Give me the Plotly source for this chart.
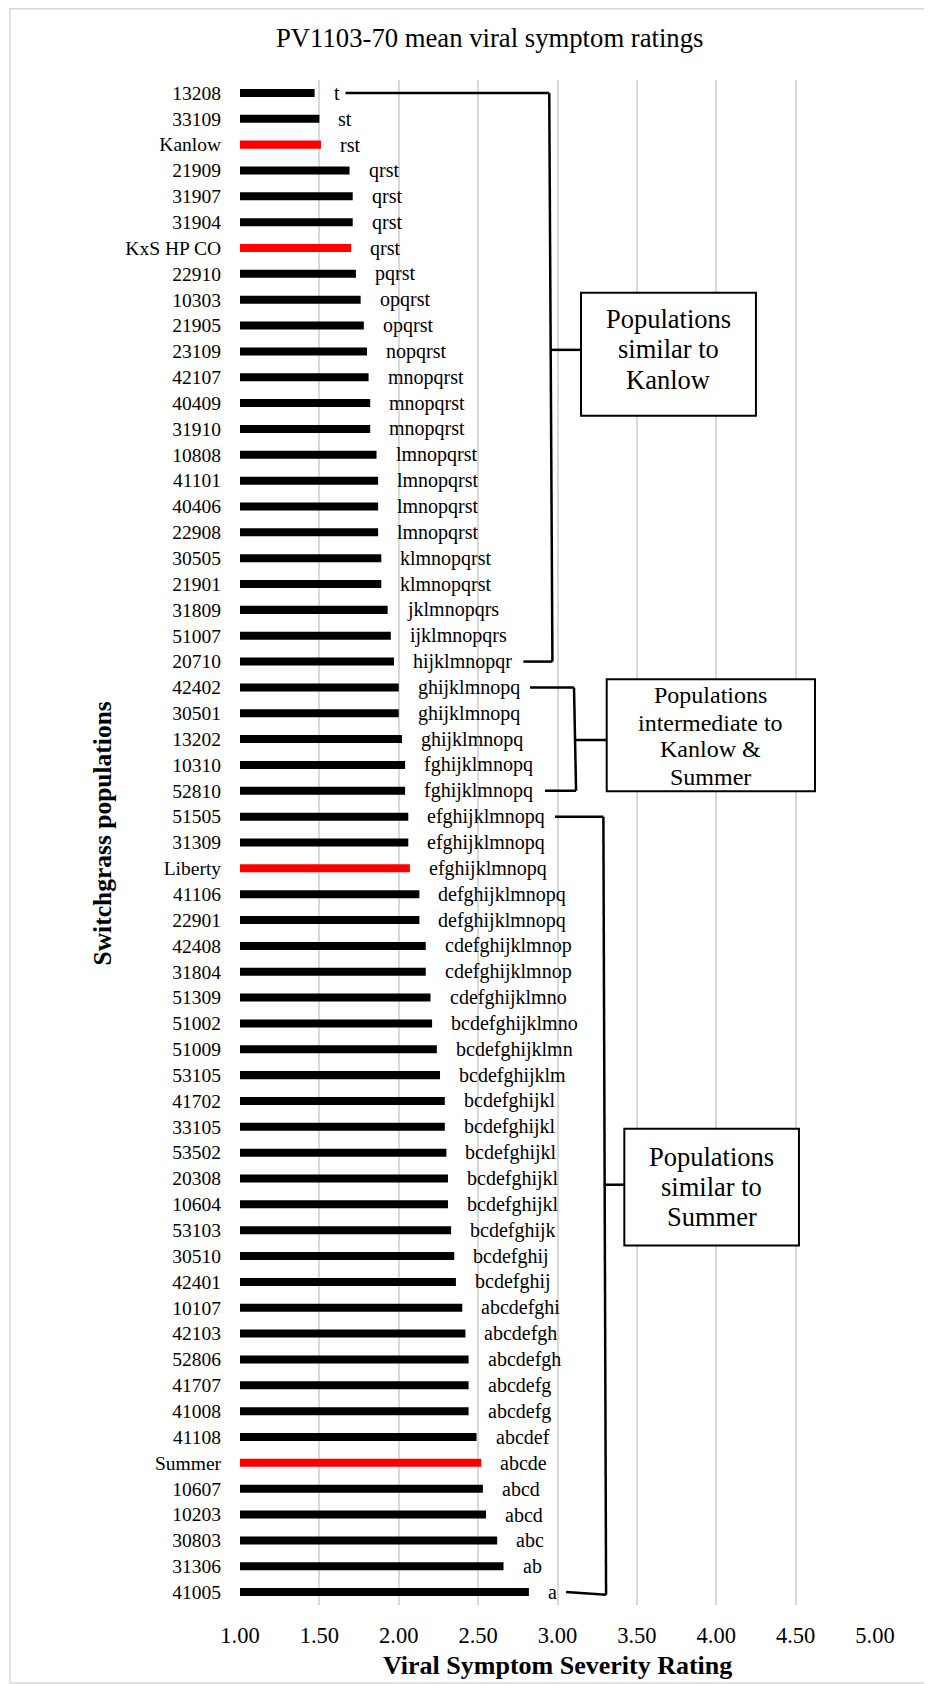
import plotly.graph_objects as go

# ---------------- data ----------------
populations = ["13208", "33109", "Kanlow", "21909", "31907", "31904", "KxS HP CO", "22910",
               "10303", "21905", "23109", "42107", "40409", "31910", "10808", "41101",
               "40406", "22908", "30505", "21901", "31809", "51007", "20710", "42402",
               "30501", "13202", "10310", "52810", "51505", "31309", "Liberty", "41106",
               "22901", "42408", "31804", "51309", "51002", "51009", "53105", "41702",
               "33105", "53502", "20308", "10604", "53103", "30510", "42401", "10107",
               "42103", "52806", "41707", "41008", "41108", "Summer", "10607", "10203",
               "30803", "31306", "41005"]

ratings = [1.47, 1.50, 1.51, 1.69, 1.71, 1.71, 1.70, 1.73,
           1.76, 1.78, 1.80, 1.81, 1.82, 1.82, 1.86, 1.87,
           1.87, 1.87, 1.89, 1.89, 1.93, 1.95, 1.97, 2.00,
           2.00, 2.02, 2.04, 2.04, 2.06, 2.06, 2.07, 2.13,
           2.13, 2.17, 2.17, 2.20, 2.21, 2.24, 2.26, 2.29,
           2.29, 2.30, 2.31, 2.31, 2.33, 2.35, 2.36, 2.40,
           2.42, 2.44, 2.44, 2.44, 2.49, 2.52, 2.53, 2.55,
           2.62, 2.66, 2.82]

letters = ["t", "st", "rst", "qrst", "qrst", "qrst", "qrst", "pqrst",
           "opqrst", "opqrst", "nopqrst", "mnopqrst", "mnopqrst", "mnopqrst", "lmnopqrst", "lmnopqrst",
           "lmnopqrst", "lmnopqrst", "klmnopqrst", "klmnopqrst", "jklmnopqrs", "ijklmnopqrs", "hijklmnopqr", "ghijklmnopq",
           "ghijklmnopq", "ghijklmnopq", "fghijklmnopq", "fghijklmnopq", "efghijklmnopq", "efghijklmnopq", "efghijklmnopq", "defghijklmnopq",
           "defghijklmnopq", "cdefghijklmnop", "cdefghijklmnop", "cdefghijklmno", "bcdefghijklmno", "bcdefghijklmn", "bcdefghijklm", "bcdefghijkl",
           "bcdefghijkl", "bcdefghijkl", "bcdefghijkl", "bcdefghijkl", "bcdefghijk", "bcdefghij", "bcdefghij", "abcdefghi",
           "abcdefgh", "abcdefgh", "abcdefg", "abcdefg", "abcdef", "abcde", "abcd", "abcd",
           "abc", "ab", "a"]

check_populations = ["Kanlow", "KxS HP CO", "Liberty", "Summer"]

x_ticks = [1.0, 1.5, 2.0, 2.5, 3.0, 3.5, 4.0, 4.5, 5.0]

group_labels = [["Populations", "similar to", "Kanlow"],
                ["Populations", "intermediate to", "Kanlow &", "Summer"],
                ["Populations", "similar to", "Summer"]]

# ---------------- figure ----------------
# the page body has an 8px margin, so the figure is drawn 8px smaller
OFF = 8
W, H = 932 - OFF, 1684 - OFF
ML, MR, MT, MB = 232, 57, 72, 79
PW, PH = W - ML - MR, H - MT - MB
FONT = "Liberation Serif, Times New Roman, serif"


def px_x(px):  # screen px -> paper x
    return (px - OFF - ML) / PW


def px_y(py):  # screen py -> paper y
    return (H - MB - (py - OFF)) / PH


rows = list(range(len(populations)))
colors = ["#ff0000" if p in check_populations else "#000000" for p in populations]

fig = go.Figure()
fig.add_trace(go.Bar(
    y=rows, x=ratings, orientation="h",
    marker=dict(color=colors, line=dict(width=0)),
    width=0.31, showlegend=False,
    customdata=populations,
    hovertemplate="%{customdata}: %{x:.2f}<extra></extra>",
))

annotations = []
for i, (r, l) in enumerate(zip(ratings, letters)):
    annotations.append(dict(x=r, y=i, xref="x", yref="y", text=l, showarrow=False,
                            xanchor="left", yanchor="middle", xshift=17,
                            font=dict(family=FONT, size=20, color="black")))

# group text boxes: (x0, x1, y0, y1, font size, line y positions)
boxes = [
    (3.148, 4.250, 7.73, 12.49, 26.5, [8.74, 9.92, 11.10]),
    (3.310, 4.622, 22.68, 27.02, 24, [23.30, 24.36, 25.39, 26.46]),
    (3.421, 4.521, 40.07, 44.59, 26.5, [41.18, 42.34, 43.50]),
]

shapes = []
# outer chart border
shapes.append(dict(type="rect", xref="paper", yref="paper",
                   x0=px_x(10), x1=px_x(926), y0=px_y(1683), y1=px_y(8.8),
                   line=dict(color="#d9d9d9", width=1.5), layer="below"))

BL = dict(color="black", width=2.5)
brackets = [
    [(1.665, 0, 2.948, 0), (2.948, 0, 2.968, 22), (2.785, 22, 2.968, 22), (2.957, 9.94, 3.148, 9.94)],
    [(2.827, 23, 3.104, 23), (3.104, 23, 3.117, 27), (2.921, 27, 3.117, 27), (3.110, 25.03, 3.310, 25.03)],
    [(2.984, 28, 3.289, 28), (3.289, 28, 3.306, 58.1), (3.054, 58, 3.306, 58.1), (3.298, 42.24, 3.421, 42.24)],
]
for br in brackets:
    for (xa, ya, xb, yb) in br:
        shapes.append(dict(type="line", xref="x", yref="y", x0=xa, y0=ya, x1=xb, y1=yb,
                           line=BL, layer="above"))

for (x0, x1, y0, y1, fs, ys), lines in zip(boxes, group_labels):
    shapes.append(dict(type="rect", xref="x", yref="y", x0=x0, x1=x1, y0=y0, y1=y1,
                       fillcolor="white", line=dict(color="black", width=2), layer="above"))
    for yy, txt in zip(ys, lines):
        annotations.append(dict(x=(x0 + x1) / 2, y=yy, xref="x", yref="y", text=txt,
                                showarrow=False, xanchor="center", yanchor="middle",
                                font=dict(family=FONT, size=fs, color="black")))

# titles
annotations.append(dict(x=px_x(274), y=px_y(38.5), xref="paper", yref="paper",
                        text="PV1103-70 mean viral symptom ratings", showarrow=False,
                        xanchor="left", yanchor="middle",
                        font=dict(family=FONT, size=26.7, color="black")))
annotations.append(dict(x=0.5, y=px_y(1665.5), xref="paper", yref="paper",
                        text="<b>Viral Symptom Severity Rating</b>", showarrow=False,
                        xanchor="center", yanchor="middle",
                        font=dict(family=FONT, size=26, color="black")))
annotations.append(dict(x=px_x(101.5), y=px_y(834), xref="paper", yref="paper",
                        text="<b>Switchgrass populations</b>", showarrow=False, textangle=-90,
                        xanchor="center", yanchor="middle",
                        font=dict(family=FONT, size=25.5, color="black")))

n = len(populations)
fig.update_layout(
    width=W, height=H, autosize=False,
    margin=dict(l=ML, r=MR, t=MT, b=MB, pad=0),
    paper_bgcolor="white", plot_bgcolor="white",
    font=dict(family=FONT, color="black"),
    xaxis=dict(range=[1, 5], tickmode="array", tickvals=x_ticks,
               ticktext=[f"{v:.2f}" for v in x_ticks],
               showgrid=True, gridcolor="#d9d9d9", gridwidth=1.5,
               zeroline=False, showline=False,
               ticks="outside", ticklen=10, tickcolor="rgba(0,0,0,0)",
               tickfont=dict(family=FONT, size=22.5, color="black"), fixedrange=True),
    yaxis=dict(range=[n - 0.5, -0.5], tickmode="array", tickvals=rows, ticktext=populations,
               showgrid=False, zeroline=False, showline=False,
               ticks="outside", ticklen=14, tickcolor="rgba(0,0,0,0)",
               tickfont=dict(family=FONT, size=19.5, color="black"), fixedrange=True),
    shapes=shapes,
    annotations=annotations,
)

fig.write_html("out.html")
